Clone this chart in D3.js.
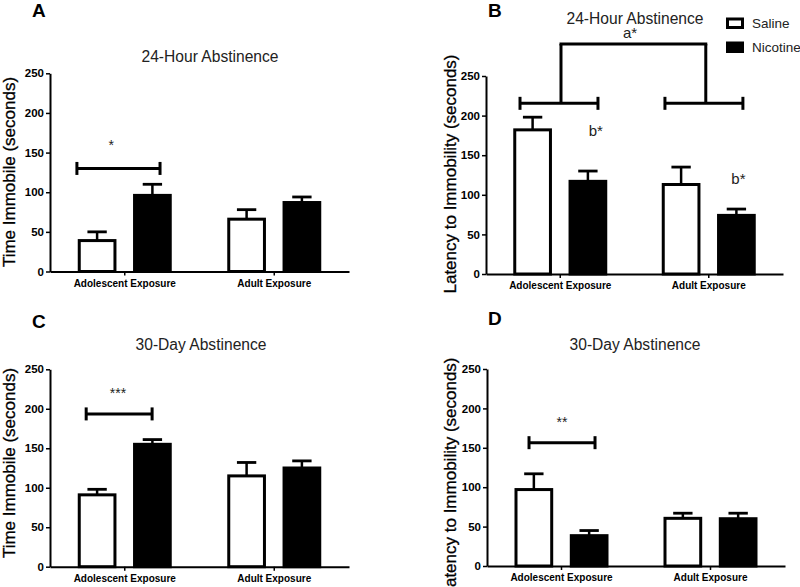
<!DOCTYPE html>
<html><head><meta charset="utf-8">
<script src="https://cdn.jsdelivr.net/npm/d3@7"></script>
<style>body{margin:0;background:#fff}svg{display:block;font-family:"Liberation Sans",Arial,sans-serif}</style>
</head><body><svg id="c" width="800" height="587"></svg>
<script>
const categories = ["Adolescent Exposure", "Adult Exposure"];
const series = ["Saline", "Nicotine"];
const yTicks = [0, 50, 100, 150, 200, 250];

// values [Saline, Nicotine] per category; err = top of error bar
const A_vals = [[39, 96], [66, 87]];
const A_err  = [[50, 110], [78, 94]];
const B_vals = [[182, 117], [113, 74]];
const B_err  = [[198, 130], [135, 82]];
const C_vals = [[91, 155], [115, 125]];
const C_err  = [[98, 161], [132, 134]];
const D_vals = [[97, 38.5], [60.5, 60]];
const D_err  = [[117, 45], [67, 67]];

const panels = [
  {id:"A", title:"24-Hour Abstinence", ylab:"Time Immobile (seconds)", vals:A_vals, err:A_err,
   x0:50, x1:349, y0:271.5, y1:73.3, letter:[32,17], titlePos:[210,62], ylabPos:[15,172],
   sig:[{from:-0.32, to:0.236, y:130, text:"*", tx:-0.09, ty:153}]},
  {id:"B", title:"24-Hour Abstinence", ylab:"Latency to Immobility (seconds)", vals:B_vals, err:B_err,
   x0:486, x1:783, y0:274, y1:76, letter:[488,17], titlePos:[635,24], ylabPos:[456,174], legend:true, sig:[],
   brackets:true},
  {id:"C", title:"30-Day Abstinence", ylab:"Time Immobile (seconds)", vals:C_vals, err:C_err,
   x0:50, x1:349, y0:566.7, y1:369.3, letter:[32,328], titlePos:[201,350], ylabPos:[15,463],
   sig:[{from:-0.258, to:0.183, y:193.5, text:"***", tx:-0.045, ty:214}]},
  {id:"D", title:"30-Day Abstinence", ylab:"Latency to Immobility (seconds)", vals:D_vals, err:D_err,
   x0:487, x1:785, y0:566, y1:369, letter:[488,325], titlePos:[635,350], ylabPos:[456,477],
   sig:[{from:-0.218, to:0.225, y:156.5, text:"**", tx:0.003, ty:176}]}
];

// B group-comparison brackets (in group-index units / data units)
const B_groupBrackets = [{from:-0.271, to:0.254, mid:0.005}, {from:0.705, to:1.23, mid:0.98}];
const B_bracketY = 215.5, B_topY = 290.4;
const B_labels = [{text:"a*", x:0.47, y:298}, {text:"b*", x:0.24, y:174}, {text:"b*", x:1.2, y:113.6}];

const svg = d3.select("#c");
const font = '"Liberation Sans",Arial,sans-serif';

panels.forEach(p => {
  const g = svg.append("g");
  const x = d3.scaleBand().domain(categories).range([p.x0, p.x1]);
  const xs = d3.scaleBand().domain(series).range([-47, 47]).paddingInner(0.3);
  const y = d3.scaleLinear().domain([0, 250]).range([p.y0, p.y1]);
  const xi = d3.scaleLinear().domain([0, 1]).range([x(categories[0]) + x.bandwidth()/2, x(categories[1]) + x.bandwidth()/2]);

  // bars
  categories.forEach((c, ci) => {
    const cx = x(c) + x.bandwidth()/2;
    series.forEach((s, si) => {
      const v = p.vals[ci][si], e = p.err[ci][si];
      const bx = cx + xs(s);
      const mid = bx + xs.bandwidth()/2;
      g.append("line").attr("x1", mid).attr("x2", mid).attr("y1", y(v)).attr("y2", y(e))
        .attr("stroke", "#000").attr("stroke-width", 2.5);
      g.append("line").attr("x1", mid - xs.bandwidth()/4).attr("x2", mid + xs.bandwidth()/4)
        .attr("y1", y(e)).attr("y2", y(e)).attr("stroke", "#000").attr("stroke-width", 2.8);
      g.append("rect").attr("x", bx + 1.5).attr("y", y(v))
        .attr("width", xs.bandwidth() - 3).attr("height", y(0) - y(v))
        .attr("fill", si === 0 ? "#fff" : "#000").attr("stroke", "#000").attr("stroke-width", 3);
    });
  });

  // y axis
  const ya = g.append("g").attr("transform", `translate(${p.x0},0)`)
    .call(d3.axisLeft(y).tickValues(yTicks).tickSize(4).tickPadding(2).tickSizeOuter(0));
  ya.select(".domain").attr("stroke-width", 2);
  ya.selectAll(".tick line").attr("stroke-width", 1.5);
  ya.selectAll("text").attr("font-family", font).attr("font-size", 11.5).attr("font-weight", "bold").attr("fill", "#000");

  // x axis
  const xa = g.append("g").attr("transform", `translate(0,${p.y0})`)
    .call(d3.axisBottom(x).tickSize(4).tickPadding(4).tickSizeOuter(0));
  xa.select(".domain").attr("stroke-width", 2);
  xa.selectAll(".tick line").attr("stroke-width", 1.5);
  xa.selectAll("text").attr("font-family", font).attr("font-size", 10).attr("font-weight", "bold").attr("fill", "#000");

  // letter
  g.append("text").attr("x", p.letter[0]).attr("y", p.letter[1]).text(p.id)
    .attr("font-size", 19).attr("font-weight", "bold").attr("fill", "#000");
  // title
  g.append("text").attr("x", p.titlePos[0]).attr("y", p.titlePos[1]).attr("text-anchor", "middle")
    .text(p.title).attr("font-size", 15.6).attr("fill", "#222");
  // y label
  g.append("text").attr("transform", `translate(${p.ylabPos[0]},${p.ylabPos[1]}) rotate(-90)`)
    .attr("text-anchor", "middle").text(p.ylab).attr("font-size", 17).attr("fill", "#000")
    .attr("stroke", "#000").attr("stroke-width", 0.3);

  // significance bars
  p.sig.forEach(s => {
    const yy = y(s.y);
    g.append("line").attr("x1", xi(s.from)).attr("x2", xi(s.to)).attr("y1", yy).attr("y2", yy)
      .attr("stroke", "#000").attr("stroke-width", 3);
    [s.from, s.to].forEach(t => g.append("line").attr("x1", xi(t)).attr("x2", xi(t))
      .attr("y1", yy - 6.5).attr("y2", yy + 6.5).attr("stroke", "#000").attr("stroke-width", 3));
    g.append("text").attr("x", xi(s.tx)).attr("y", y(s.ty)).attr("text-anchor", "middle")
      .text(s.text).attr("font-size", 14).attr("fill", "#222");
  });

  if (p.brackets) {
    const yb = y(B_bracketY), yt = y(B_topY);
    B_groupBrackets.forEach(b => {
      g.append("line").attr("x1", xi(b.from)).attr("x2", xi(b.to)).attr("y1", yb).attr("y2", yb)
        .attr("stroke", "#000").attr("stroke-width", 3);
      [b.from, b.to].forEach(t => g.append("line").attr("x1", xi(t)).attr("x2", xi(t))
        .attr("y1", yb - 6.5).attr("y2", yb + 6.5).attr("stroke", "#000").attr("stroke-width", 3));
      g.append("line").attr("x1", xi(b.mid)).attr("x2", xi(b.mid)).attr("y1", yb).attr("y2", yt)
        .attr("stroke", "#000").attr("stroke-width", 3);
    });
    g.append("line").attr("x1", xi(B_groupBrackets[0].mid) - 1.5).attr("x2", xi(B_groupBrackets[1].mid) + 1.5)
      .attr("y1", yt).attr("y2", yt).attr("stroke", "#000").attr("stroke-width", 3);
    B_labels.forEach(l => g.append("text").attr("x", xi(l.x)).attr("y", y(l.y)).attr("text-anchor", "middle")
      .text(l.text).attr("font-size", 15).attr("fill", "#222"));
  }

  if (p.legend) {
    const lg = g.append("g").attr("transform", "translate(726,18)");
    series.forEach((s, i) => {
      lg.append("rect").attr("x", 1.5).attr("y", i * 24 + 1).attr("width", 15).attr("height", 8.5)
        .attr("fill", i === 0 ? "#fff" : "#000").attr("stroke", "#000").attr("stroke-width", 3);
      lg.append("text").attr("x", 26).attr("y", i * 24 + 10).text(s)
        .attr("font-size", 13.5).attr("fill", "#222");
    });
  }
});
</script></body></html>
